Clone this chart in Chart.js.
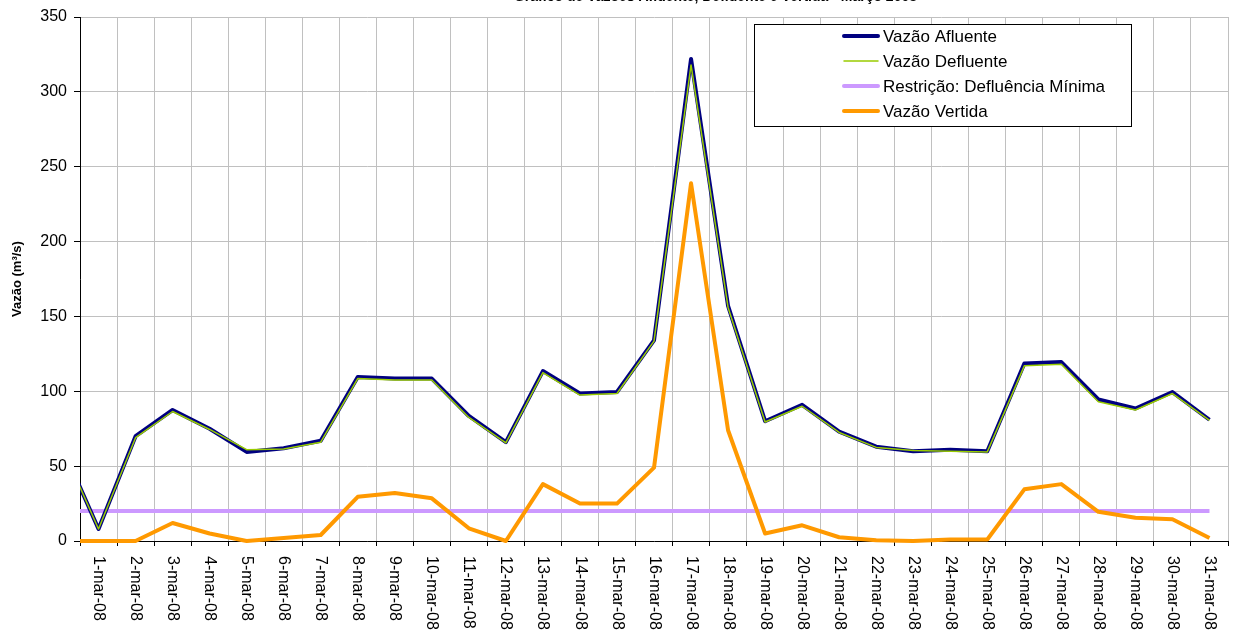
<!DOCTYPE html>
<html lang="pt">
<head>
<meta charset="utf-8">
<title>Vazões - Março 2008</title>
<script src="https://cdn.jsdelivr.net/npm/chart.js@4.4.1/dist/chart.umd.min.js"></script>
<style>
  html, body { margin: 0; padding: 0; background: #fff; }
  #wrap { width: 1235px; height: 631px; position: relative; }
</style>
</head>
<body>
<div id="wrap"><canvas id="vazoesChart"></canvas></div>
<script>
// dia 0 = 29-fev-08: fica fora do eixo, so aparece o comeco da linha
const dias = [0, 1, 2, 3, 4, 5, 6, 7, 8, 9, 10, 11, 12, 13, 14, 15, 16,
              17, 18, 19, 20, 21, 22, 23, 24, 25, 26, 27, 28, 29, 30, 31];
const rotulosDias = ['1-mar-08', '2-mar-08', '3-mar-08', '4-mar-08', '5-mar-08', '6-mar-08',
                     '7-mar-08', '8-mar-08', '9-mar-08', '10-mar-08', '11-mar-08', '12-mar-08',
                     '13-mar-08', '14-mar-08', '15-mar-08', '16-mar-08', '17-mar-08', '18-mar-08',
                     '19-mar-08', '20-mar-08', '21-mar-08', '22-mar-08', '23-mar-08', '24-mar-08',
                     '25-mar-08', '26-mar-08', '27-mar-08', '28-mar-08', '29-mar-08', '30-mar-08',
                     '31-mar-08'];

const vazaoAfluente = [64, 8, 70, 87.5, 75, 59.5, 62, 67, 109.5, 108.5, 108.5, 83.5, 66, 113.5, 98.5, 99.5,
                       134, 322, 157, 80, 91, 73, 63, 60, 61, 60, 118.5, 119.5, 94.5, 88.5, 99.5, 81];
const vazaoDefluente = [64, 8, 69, 86.5, 74.5, 61, 61.5, 66, 108.5, 107.5, 107.5, 82.5, 65.5, 112.5, 97.5, 98.5,
                        133.5, 318, 156, 79.5, 90, 72.5, 62.5, 60.5, 60, 59.5, 117, 118, 93, 87.5, 98.5, 80.5];
const defluenciaMinima = [20, 20, 20, 20, 20, 20, 20, 20, 20, 20, 20, 20, 20, 20, 20, 20,
                          20, 20, 20, 20, 20, 20, 20, 20, 20, 20, 20, 20, 20, 20, 20, 20];
const vazaoVertida = [0, 0, 0, 12, 5, 0, 2, 4, 29.5, 32, 28.5, 8.5, 0, 38, 25, 25,
                      49, 239, 74, 5, 10.5, 2.5, 0.5, 0, 1, 1, 34.5, 38, 19.5, 15.5, 14.5, 2];

const fonte = '"Liberation Sans", Arial, sans-serif';
Chart.defaults.font.family = fonte;

function pontos(valores) {
    return valores.map((v, i) => ({ x: dias[i], y: v }));
}

// rotulos do eixo x lidos de cima pra baixo (o chart.js so gira no outro sentido)
const rotulosX = {
    id: 'rotulosX',
    afterDraw(chart) {
        const { ctx } = chart;
        const eixo = chart.scales.x;
        ctx.save();
        ctx.font = '16px ' + fonte;
        ctx.fillStyle = '#000';
        ctx.textAlign = 'left';
        ctx.textBaseline = 'middle';
        eixo.ticks.forEach((t, i) => {
            ctx.save();
            ctx.translate(eixo.getPixelForValue(t.value), eixo.top + 15);
            ctx.rotate(Math.PI / 2);
            ctx.fillText(rotulosDias[i], 0, 0);
            ctx.restore();
        });
        ctx.restore();
    }
};

const legendaCaixa = {
    id: 'legendaCaixa',
    afterDraw(chart) {
        const { ctx } = chart;
        const box = { left: 754, top: 24, width: 377, height: 102 };
        ctx.save();
        ctx.fillStyle = '#fff';
        ctx.fillRect(box.left, box.top, box.width, box.height);
        ctx.strokeStyle = '#000';
        ctx.lineWidth = 1;
        ctx.strokeRect(box.left + 0.5, box.top + 0.5, box.width, box.height);
        ctx.font = '17px ' + fonte;
        ctx.textBaseline = 'middle';
        ctx.lineCap = 'round';
        chart.data.datasets.forEach((ds, i) => {
            const y = box.top + 12 + i * 25;
            ctx.beginPath();
            ctx.strokeStyle = ds.borderColor;
            ctx.lineWidth = ds.borderWidth;
            ctx.moveTo(box.left + 90, y);
            ctx.lineTo(box.left + 124, y);
            ctx.stroke();
            ctx.fillStyle = '#000';
            ctx.fillText(ds.label, box.left + 129, y + 1);
        });
        ctx.restore();
    }
};

// titulo quase todo fora da imagem, como no original
const tituloCortado = {
    id: 'tituloCortado',
    afterDraw(chart) {
        const { ctx } = chart;
        ctx.save();
        ctx.font = 'bold 14px ' + fonte;
        ctx.fillStyle = '#000';
        ctx.textAlign = 'right';
        ctx.textBaseline = 'alphabetic';
        ctx.fillText('Gráfico de Vazões Afluente, Defluente e Vertida - Março 2008', 917, 1);
        ctx.restore();
    }
};

new Chart(document.getElementById('vazoesChart'), {
    type: 'line',
    data: {
        datasets: [
            { label: 'Vazão Afluente', data: pontos(vazaoAfluente), borderColor: '#000080', borderWidth: 4, order: 3 },
            { label: 'Vazão Defluente', data: pontos(vazaoDefluente), borderColor: '#99cc00', borderWidth: 1.5, order: 1 },
            { label: 'Restrição: Defluência Mínima', data: pontos(defluenciaMinima), borderColor: '#cc99ff', borderWidth: 4, order: 4 },
            { label: 'Vazão Vertida', data: pontos(vazaoVertida), borderColor: '#ff9900', borderWidth: 4, order: 2 }
        ]
    },
    options: {
        responsive: true,
        maintainAspectRatio: false,
        animation: false,
        layout: { padding: { top: 17, right: 7, left: 0, bottom: 0 } },
        datasets: {
            line: {
                pointRadius: 0,
                tension: 0,
                fill: false,
                borderJoinStyle: 'round',
                clip: { left: 0, top: 0, right: 0, bottom: 6 }
            }
        },
        plugins: {
            legend: { display: false },
            tooltip: { enabled: false }
        },
        scales: {
            x: {
                type: 'linear',
                bounds: 'data',
                min: 0.5,
                max: 31.5,
                afterBuildTicks: s => { s.ticks = dias.slice(1).map(d => ({ value: d })); },
                afterFit: s => { s.height = 90; },
                ticks: { display: false },
                grid: { offset: true, color: '#c0c0c0', tickColor: '#000', tickLength: 5 },
                border: { color: '#000', width: 1 }
            },
            y: {
                min: 0,
                max: 350,
                afterFit: s => { s.width = 80; },
                ticks: { stepSize: 50, color: '#000', font: { size: 16 }, padding: 7 },
                grid: { color: '#c0c0c0', tickColor: '#000', tickLength: 6 },
                border: { color: '#000', width: 1 },
                title: {
                    display: true,
                    text: 'Vazão (m³/s)',
                    color: '#000',
                    font: { size: 13, weight: 'bold' },
                    padding: { top: 10, bottom: 0 }
                }
            }
        }
    },
    plugins: [rotulosX, legendaCaixa, tituloCortado]
});
</script>
</body>
</html>
